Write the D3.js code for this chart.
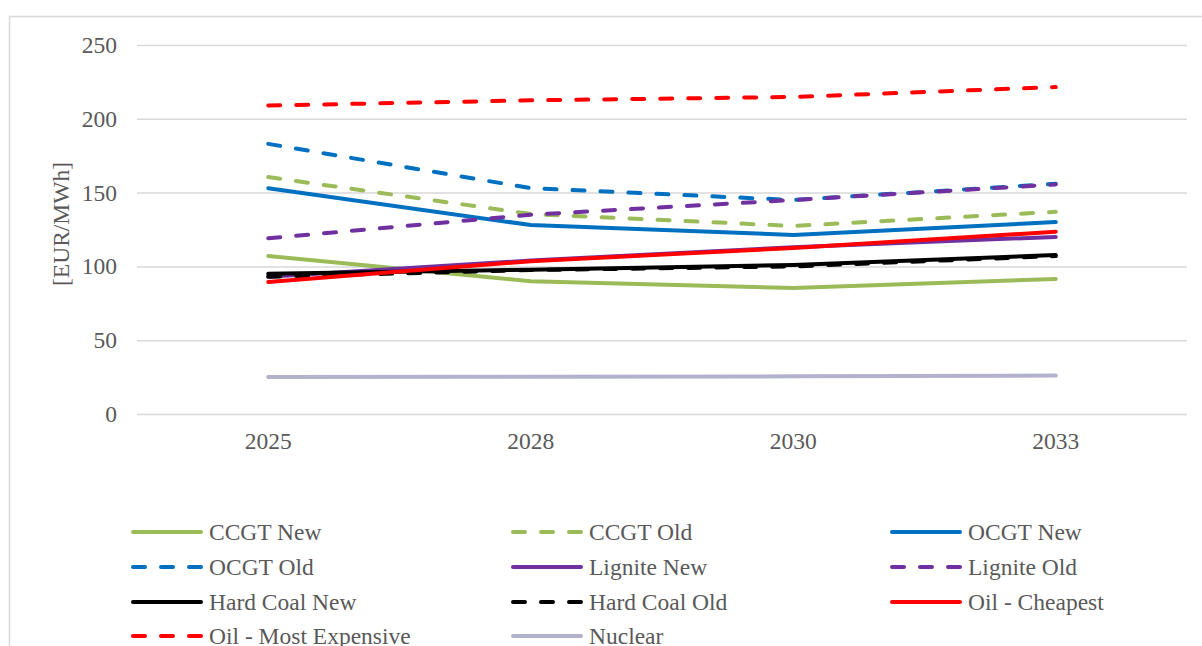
<!DOCTYPE html>
<html>
<head>
<meta charset="utf-8">
<script src="https://cdn.jsdelivr.net/npm/d3@7"></script>
<style>
  html, body { margin: 0; padding: 0; background: #fff; }
  svg { display: block; }
  text { font-family: "Liberation Serif", "Times New Roman", serif; fill: #595959; }
</style>
</head>
<body>
<svg id="chart" width="1202" height="646"></svg>
<script>
const years = ["2025", "2028", "2030", "2033"];
const yTicks = [0, 50, 100, 150, 200, 250];
const yTitle = "[EUR/MWh]";

const ccgtNew = [107, 90, 85.4, 91.5];
const ccgtOld = [160.5, 135.5, 127.4, 137];
const ocgtNew = [153, 128, 121.3, 130];
const ocgtOld = [183, 153, 145, 156];
const ligniteNew = [93, 104, 113, 120];
const ligniteOld = [119, 135, 145, 155.5];
const hardCoalNew = [95, 97.8, 101, 107.7];
const hardCoalOld = [93, 97.5, 100, 107];
const oilCheapest = [89.5, 103.5, 112.5, 123.5];
const oilMostExpensive = [209, 212.5, 214.8, 221.5];
const nuclear = [25, 25.3, 25.5, 26];

const series = [
  { name: "CCGT New", values: ccgtNew, color: "#9BBB59", dashed: false },
  { name: "CCGT Old", values: ccgtOld, color: "#9BBB59", dashed: true },
  { name: "OCGT New", values: ocgtNew, color: "#0070C0", dashed: false },
  { name: "OCGT Old", values: ocgtOld, color: "#0070C0", dashed: true },
  { name: "Lignite New", values: ligniteNew, color: "#7030A0", dashed: false },
  { name: "Lignite Old", values: ligniteOld, color: "#7030A0", dashed: true },
  { name: "Hard Coal New", values: hardCoalNew, color: "#000000", dashed: false },
  { name: "Hard Coal Old", values: hardCoalOld, color: "#000000", dashed: true },
  { name: "Oil - Cheapest", values: oilCheapest, color: "#FF0000", dashed: false },
  { name: "Oil - Most Expensive", values: oilMostExpensive, color: "#FF0000", dashed: true },
  { name: "Nuclear", values: nuclear, color: "#B3B2CC", dashed: false }
];

const svg = d3.select("#chart");
const fs = "23.5px";

// outer chart border
svg.append("rect")
  .attr("x", 9.5).attr("y", 16.5)
  .attr("width", 1210).attr("height", 650)
  .attr("fill", "none").attr("stroke", "#D9D9D9").attr("stroke-width", 1.5);

const x = d3.scaleBand().domain(years).range([137, 1187]).paddingInner(0).paddingOuter(0);
const y = d3.scaleLinear().domain([0, 250]).range([414, 45]);

// gridlines + y tick labels
const yAxis = d3.axisLeft(y).tickValues(yTicks).tickSize(-(1187 - 137)).tickPadding(20);
const gy = svg.append("g").attr("transform", "translate(137,0)").call(yAxis);
gy.select(".domain").remove();
gy.selectAll(".tick line").attr("stroke", "#D9D9D9").attr("stroke-width", 1.5);
gy.selectAll(".tick text")
  .attr("font-size", fs)
  .attr("fill", "#595959")
  .style("font-family", "'Liberation Serif', serif")
  .attr("x", -20);

// x axis labels
const xAxis = d3.axisBottom(x).tickSize(0).tickPadding(18);
const gx = svg.append("g").attr("transform", "translate(0,414)").call(xAxis);
gx.select(".domain").remove();
gx.selectAll(".tick text")
  .attr("font-size", fs)
  .attr("fill", "#595959")
  .style("font-family", "'Liberation Serif', serif");

// y title
svg.append("text")
  .attr("transform", "translate(69,224) rotate(-90)")
  .attr("text-anchor", "middle")
  .attr("font-size", fs)
  .text(yTitle);

const line = d3.line()
  .x((d, i) => x(years[i]) + x.bandwidth() / 2)
  .y(d => y(d));

svg.append("g").selectAll("path")
  .data(series)
  .join("path")
  .attr("d", d => line(d.values))
  .attr("fill", "none")
  .attr("stroke", d => d.color)
  .attr("stroke-width", 4)
  .attr("stroke-linecap", "round")
  .attr("stroke-linejoin", "round")
  .attr("stroke-dasharray", d => d.dashed ? "12,16" : null);

// legend
const colX = [133, 513, 892];
const rowY = [532, 567, 602, 636];
const lg = svg.append("g").selectAll("g")
  .data(series)
  .join("g")
  .attr("transform", (d, i) => `translate(${colX[i % 3]},${rowY[Math.floor(i / 3)]})`);
lg.append("line")
  .attr("x1", 0).attr("x2", 68)
  .attr("y1", 0).attr("y2", 0)
  .attr("stroke", d => d.color)
  .attr("stroke-width", 4)
  .attr("stroke-linecap", "round")
  .attr("stroke-dasharray", d => d.dashed ? "12,16" : null);
lg.append("text")
  .attr("x", 76)
  .attr("y", 0)
  .attr("dy", "0.35em")
  .attr("font-size", fs)
  .text(d => d.name);
</script>
</body>
</html>
